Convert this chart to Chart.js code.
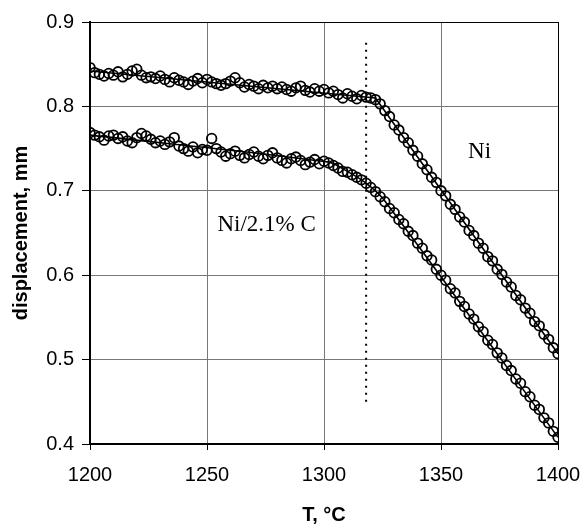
<!DOCTYPE html>
<html>
<head>
<meta charset="utf-8">
<script src="https://cdn.jsdelivr.net/npm/chart.js@4/dist/chart.umd.min.js"></script>
<style>
  html, body { margin: 0; padding: 0; background: #fff; }
  #wrap { width: 585px; height: 527px; }
</style>
</head>
<body>
<div id="wrap"><canvas id="chart" width="585" height="527"></canvas></div>
<script>
// temperatures, every 2 °C from 1200 to 1400
const temps = [];
for (let t = 1200; t <= 1400; t += 2) temps.push(t);

// displacement of pure Ni
const niValues = [
  0.846, 0.840, 0.838, 0.836, 0.839, 0.837, 0.841, 0.835, 0.838, 0.842,
  0.844, 0.837, 0.834, 0.835, 0.833, 0.836, 0.832, 0.829, 0.834, 0.831,
  0.829, 0.826, 0.830, 0.833, 0.828, 0.832, 0.829, 0.827, 0.825, 0.827,
  0.830, 0.834, 0.828, 0.823, 0.826, 0.824, 0.821, 0.825, 0.822, 0.824,
  0.821, 0.823, 0.820, 0.818, 0.822, 0.824, 0.819, 0.817, 0.821, 0.818,
  0.820, 0.816, 0.818, 0.814, 0.810, 0.815, 0.812, 0.809, 0.813, 0.811,
  0.810, 0.808, 0.803, 0.795, 0.788, 0.778, 0.772, 0.763, 0.757, 0.748,
  0.741, 0.732, 0.725, 0.716, 0.710, 0.700, 0.694, 0.684, 0.678, 0.669,
  0.663, 0.653, 0.647, 0.638, 0.632, 0.622, 0.617, 0.607, 0.601, 0.592,
  0.586, 0.576, 0.571, 0.561, 0.555, 0.545, 0.540, 0.530, 0.524, 0.514,
  0.507
];

// displacement of Ni/2.1% C
const nicValues = [
  0.769, 0.766, 0.764, 0.760, 0.765, 0.766, 0.762, 0.764, 0.759, 0.757,
  0.763, 0.768, 0.765, 0.761, 0.757, 0.759, 0.755, 0.758, 0.763, 0.753,
  0.750, 0.747, 0.752, 0.745, 0.749, 0.748, 0.762, 0.750, 0.746, 0.741,
  0.744, 0.747, 0.742, 0.739, 0.743, 0.746, 0.741, 0.738, 0.742, 0.745,
  0.739, 0.736, 0.733, 0.738, 0.740, 0.736, 0.731, 0.734, 0.737, 0.732,
  0.735, 0.733, 0.730, 0.727, 0.723, 0.722, 0.719, 0.716, 0.713, 0.709,
  0.704, 0.699, 0.693, 0.687, 0.679, 0.674, 0.666, 0.661, 0.652, 0.647,
  0.638, 0.632, 0.623, 0.618, 0.607, 0.600, 0.594, 0.584, 0.579, 0.569,
  0.563, 0.554, 0.548, 0.539, 0.533, 0.523, 0.518, 0.508, 0.502, 0.493,
  0.487, 0.477, 0.472, 0.462, 0.456, 0.446, 0.441, 0.431, 0.425, 0.415,
  0.408
];

// fitted lines drawn through the data
const niFitT = [1200, 1322, 1400];
const niFitY = [0.842, 0.810, 0.507];
const nicFitT = [1200, 1302, 1310, 1318, 1326, 1400];
const nicFitY = [0.766, 0.734, 0.723, 0.709, 0.688, 0.408];

// vertical dotted marker
const markerT = [1318, 1318];
const markerY = [0.45, 0.88];

const xTicks = [1200, 1250, 1300, 1350, 1400];
const yTicks = [0.4, 0.5, 0.6, 0.7, 0.8, 0.9];

const labels = [
  { text: 'Ni', t: 1366.5, y: 0.746 },
  { text: 'Ni/2.1% C', t: 1275.5, y: 0.659 }
];

const pts = (xs, ys) => xs.map((x, i) => ({ x, y: ys[i] }));

const textPlugin = {
  id: 'textLabels',
  afterDatasetsDraw(chart) {
    const { ctx, scales } = chart;
    ctx.save();
    ctx.font = '23px "Liberation Serif", "Times New Roman", serif';
    ctx.fillStyle = '#000';
    ctx.textAlign = 'center';
    ctx.textBaseline = 'middle';
    labels.forEach(l => {
      ctx.fillText(l.text, scales.x.getPixelForValue(l.t), scales.y.getPixelForValue(l.y));
    });
    ctx.restore();
  }
};

const circle = {
  showLine: false,
  pointStyle: 'circle',
  pointRadius: 4.8,
  pointBorderWidth: 1.8,
  pointBorderColor: '#000',
  pointBackgroundColor: 'rgba(255,255,255,0)'
};

const fitLine = {
  type: 'line',
  showLine: true,
  pointRadius: 0,
  borderColor: '#000',
  borderWidth: 1.6,
  tension: 0.3
};

const tickFont = { family: '"Liberation Sans", Arial, sans-serif', size: 20 };
const titleFont = { family: '"Liberation Sans", Arial, sans-serif', size: 20, weight: 'bold' };

new Chart(document.getElementById('chart'), {
  type: 'scatter',
  data: {
    datasets: [
      Object.assign({ label: 'Ni', data: pts(temps, niValues) }, circle),
      Object.assign({ label: 'Ni/2.1% C', data: pts(temps, nicValues) }, circle),
      Object.assign({ label: 'Ni fit', data: pts(niFitT, niFitY) }, fitLine, { tension: 0 }),
      Object.assign({ label: 'Ni/2.1% C fit', data: pts(nicFitT, nicFitY) }, fitLine),
      {
        type: 'line', label: 'marker', data: pts(markerT, markerY),
        showLine: true, pointRadius: 0, borderColor: '#000', borderWidth: 2,
        borderDash: [2, 5]
      }
    ]
  },
  options: {
    responsive: false,
    animation: false,
    layout: { padding: { top: 22, right: 27, left: 0, bottom: 0 } },
    plugins: { legend: { display: false }, tooltip: { enabled: false } },
    scales: {
      x: {
        type: 'linear', min: 1200, max: 1400,
        afterBuildTicks: s => { s.ticks = xTicks.map(v => ({ value: v })); },
        afterFit: s => { s.height = 83; s.paddingLeft = 0; s.paddingRight = 0; },
        ticks: { color: '#000', padding: 13, font: tickFont, callback: v => String(v) },
        grid: {
          color: ctx => (ctx.tick && ctx.tick.value === 1400) ? '#000' : '#777',
          lineWidth: 1, tickLength: 6, tickColor: '#000'
        },
        border: { display: true, color: '#000', width: 2 },
        title: {
          display: true, text: 'T, °C', color: '#000', padding: { top: 0, bottom: 0 },
          font: titleFont
        }
      },
      y: {
        type: 'linear', min: 0.4, max: 0.9,
        afterBuildTicks: s => { s.ticks = yTicks.map(v => ({ value: v })); },
        afterFit: s => { s.width = 90; },
        ticks: { color: '#000', padding: 8, font: tickFont, callback: v => v.toFixed(1) },
        grid: {
          color: ctx => (ctx.tick && ctx.tick.value === 0.9) ? '#000' : '#777',
          lineWidth: 1, tickLength: 8, tickColor: '#000'
        },
        border: { display: true, color: '#000', width: 2 },
        title: {
          display: true, text: 'displacement, mm', color: '#000', padding: { top: 9, bottom: 0 },
          font: titleFont
        }
      }
    }
  },
  plugins: [textPlugin]
});
</script>
</body>
</html>
